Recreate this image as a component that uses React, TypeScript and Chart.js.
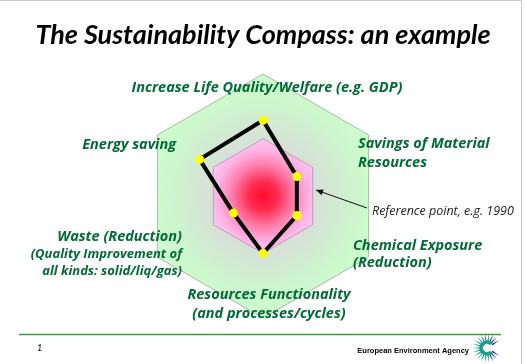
import React, { useEffect, useRef } from "react";
import { Chart, registerables } from "chart.js";

Chart.register(...registerables);

// ---------- data ----------
const AXES = [
  "Increase Life Quality/Welfare (e.g. GDP)",
  "Savings of Material Resources",
  "Chemical Exposure (Reduction)",
  "Resources Functionality (and processes/cycles)",
  "Waste (Reduction)",
  "Energy saving",
];
const AXIS_LABEL_LINES = [
  ["Increase Life Quality/Welfare (e.g. GDP)"],
  ["Savings of Material", "Resources"],
  ["Chemical Exposure", "(Reduction)"],
  ["Resources Functionality", "(and processes/cycles)"],
  ["Waste (Reduction)", "(Quality Improvement of", "all kinds: solid/liq/gas)"],
  ["Energy saving"],
];
const EXAMPLE_VALUES = [0.62, 0.32, 0.32, 0.47, 0.28, 0.6];
const REFERENCE_VALUES = [0.47, 0.47, 0.47, 0.47, 0.47, 0.47];
const OUTER_VALUES = [1, 1, 1, 1, 1, 1];
const SCALE_MAX = 1;

const TITLE = "The Sustainability Compass: an example";
const REFERENCE_NOTE = "Reference point, e.g. 1990";
const PAGE_NUMBER = "1";
const AGENCY = "European Environment Agency";

// ---------- styling / layout ----------
const GREEN_TEXT = "#006b35";
const LABEL_FONT = "'Open Sans'";
const LABEL_LAYOUT = [
  { dx: 4, dy: -104, align: "center", size: 14.5, subSize: 14.5, lh: 19 },
  { dx: 95, dy: -48, align: "left", size: 14.5, subSize: 14.5, lh: 19 },
  { dx: 90, dy: 54, align: "left", size: 14.5, subSize: 14.5, lh: 17 },
  { dx: 6, dy: 103, align: "center", size: 14.5, subSize: 14.5, lh: 19 },
  { dx: -81, dy: 45, align: "right", size: 14.5, subSize: 13, lh: 17 },
  { dx: -87, dy: -47, align: "right", size: 14.5, subSize: 14.5, lh: 17 },
];

export default function App() {
  const ref = useRef<HTMLCanvasElement>(null);

  useEffect(() => {
    const canvas = ref.current;
    if (!canvas) return;

    const pinkFill = (c: any) => {
      const chart = c.chart;
      const s = chart.scales.r;
      if (!s || !s.drawingArea) return "#ffc8f4";
      const r = s.getDistanceFromCenterForValue(REFERENCE_VALUES[0]);
      const g = chart.ctx.createRadialGradient(s.xCenter, s.yCenter, 0, s.xCenter, s.yCenter, r);
      g.addColorStop(0, "#ff0a30");
      g.addColorStop(0.25, "#ff2c50");
      g.addColorStop(0.55, "#ff80b0");
      g.addColorStop(0.8, "#ffb4e4");
      g.addColorStop(1, "#ffc6f4");
      return g;
    };
    const greenFill = (c: any) => {
      const chart = c.chart;
      const s = chart.scales.r;
      if (!s || !s.drawingArea) return "#ccffcc";
      const r = s.drawingArea;
      const g = chart.ctx.createRadialGradient(s.xCenter, s.yCenter, 0, s.xCenter, s.yCenter, r);
      g.addColorStop(0, "#d6e0d6");
      g.addColorStop(0.47, "#d6e2d6");
      g.addColorStop(0.78, "#cdf6cd");
      g.addColorStop(1, "#ccffcc");
      return g;
    };

    const decor = {
      id: "decor",
      beforeDraw(chart: any) {
        const ctx = chart.ctx;
        ctx.save();
        ctx.fillStyle = "#ffffff";
        ctx.fillRect(0, 0, chart.width, chart.height);
        ctx.restore();
      },
      afterDraw(chart: any) {
        const ctx = chart.ctx;
        const s = chart.scales.r;
        const cx = s.xCenter;
        const cy = s.yCenter;
        ctx.save();

        // frame
        ctx.strokeStyle = "#c8c8c8";
        ctx.lineWidth = 1;
        ctx.beginPath();
        ctx.moveTo(0, 0.5);
        ctx.lineTo(521.5, 0.5);
        ctx.lineTo(521.5, chart.height);
        ctx.stroke();

        // title
        ctx.fillStyle = "#000";
        ctx.font = "italic bold 27px Lato";
        ctx.textAlign = "center";
        ctx.textBaseline = "alphabetic";
        ctx.fillText(TITLE, 263, 44);

        // axis labels
        ctx.fillStyle = GREEN_TEXT;
        AXIS_LABEL_LINES.forEach((lines, i) => {
          const L = LABEL_LAYOUT[i];
          lines.forEach((line, j) => {
            const size = j === 0 ? L.size : L.subSize;
            ctx.font = `italic bold ${size}px ${LABEL_FONT}`;
            ctx.textAlign = L.align as CanvasTextAlign;
            ctx.fillText(line, cx + L.dx, cy + L.dy + j * L.lh);
          });
        });

        // reference note + arrow
        ctx.fillStyle = "#222";
        ctx.font = "italic 12.5px 'Open Sans'";
        ctx.textAlign = "left";
        ctx.fillText(REFERENCE_NOTE, cx + 109, cy + 19);
        const x1 = cx + 104, y1 = cy + 12, x2 = cx + 53, y2 = cy - 6;
        ctx.strokeStyle = "#111";
        ctx.lineWidth = 1;
        ctx.beginPath();
        ctx.moveTo(x1, y1);
        ctx.lineTo(x2, y2);
        ctx.stroke();
        const ang = Math.atan2(y2 - y1, x2 - x1);
        ctx.fillStyle = "#111";
        ctx.beginPath();
        ctx.moveTo(x2, y2);
        ctx.lineTo(x2 - 7 * Math.cos(ang) + 3 * Math.sin(ang), y2 - 7 * Math.sin(ang) - 3 * Math.cos(ang));
        ctx.lineTo(x2 - 7 * Math.cos(ang) - 3 * Math.sin(ang), y2 - 7 * Math.sin(ang) + 3 * Math.cos(ang));
        ctx.closePath();
        ctx.fill();

        // footer line
        ctx.strokeStyle = "#3a9a3a";
        ctx.lineWidth = 1.5;
        ctx.beginPath();
        ctx.moveTo(19, 334.5);
        ctx.lineTo(501, 334.5);
        ctx.stroke();

        // page number
        ctx.fillStyle = "#000";
        ctx.font = "italic 9px Lato";
        ctx.textAlign = "left";
        ctx.fillText(PAGE_NUMBER, 37, 351);

        // agency name
        ctx.font = "bold 7.5px 'Liberation Sans'";
        ctx.textAlign = "right";
        ctx.fillText(AGENCY, 469, 353);

        // logo
        const lx = 487, ly = 348;
        const n = 22;
        for (let k = 0; k < n; k++) {
          const a = (k / n) * Math.PI * 2;
          let d = a;
          if (d > Math.PI) d -= Math.PI * 2;
          if (Math.abs(d) < 0.3) continue;
          const w = 0.14;
          ctx.fillStyle = Math.cos(a) < 0.15 ? "#1d9c8c" : "#1b3f7b";
          ctx.beginPath();
          ctx.moveTo(lx + 6 * Math.cos(a - w), ly + 6 * Math.sin(a - w));
          ctx.lineTo(lx + 15 * Math.cos(a), ly + 15 * Math.sin(a));
          ctx.lineTo(lx + 6 * Math.cos(a + w), ly + 6 * Math.sin(a + w));
          ctx.closePath();
          ctx.fill();
        }
        ctx.fillStyle = "#1d9c8c";
        ctx.beginPath();
        ctx.arc(lx, ly, 7.5, Math.PI * 0.25, Math.PI * 1.75);
        ctx.arc(lx, ly, 4, Math.PI * 1.75, Math.PI * 0.25, true);
        ctx.closePath();
        ctx.fill();

        ctx.restore();
      },
    };

    const chart = new Chart(canvas, {
      type: "radar",
      data: {
        labels: AXES,
        datasets: [
          {
            label: "Example",
            data: EXAMPLE_VALUES,
            borderColor: "#000000",
            borderWidth: 4,
            fill: false,
            pointRadius: 4.5,
            pointBorderWidth: 0,
            pointBackgroundColor: "#ffff00",
            pointBorderColor: "#ffff00",
            tension: 0,
            order: 0,
          },
          {
            label: "Reference point",
            data: REFERENCE_VALUES,
            borderColor: "#b8a0b8",
            borderWidth: 1,
            backgroundColor: pinkFill,
            fill: "origin",
            pointRadius: 0,
            order: 1,
          },
          {
            label: "Compass",
            data: OUTER_VALUES,
            borderColor: "#a8b8a8",
            borderWidth: 1,
            backgroundColor: greenFill,
            fill: "origin",
            pointRadius: 0,
            order: 2,
          },
        ],
      } as any,
      options: {
        responsive: false,
        animation: false,
        events: [],
        layout: { padding: { left: 141, right: 140, top: 74, bottom: 46 } },
        plugins: {
          legend: { display: false },
          title: { display: false },
          tooltip: { enabled: false },
        },
        scales: {
          r: {
            min: 0,
            max: SCALE_MAX,
            ticks: { display: false },
            grid: { display: false },
            angleLines: { display: false },
            pointLabels: { display: false },
          },
        },
      } as any,
      plugins: [decor],
    });

    return () => chart.destroy();
  }, []);

  return (
    <div style={{ position: "fixed", left: 0, top: 0, width: 525, height: 364, background: "#fff" }}>
      <canvas ref={ref} width={525} height={364} style={{ display: "block", width: 525, height: 364 }} />
    </div>
  );
}
